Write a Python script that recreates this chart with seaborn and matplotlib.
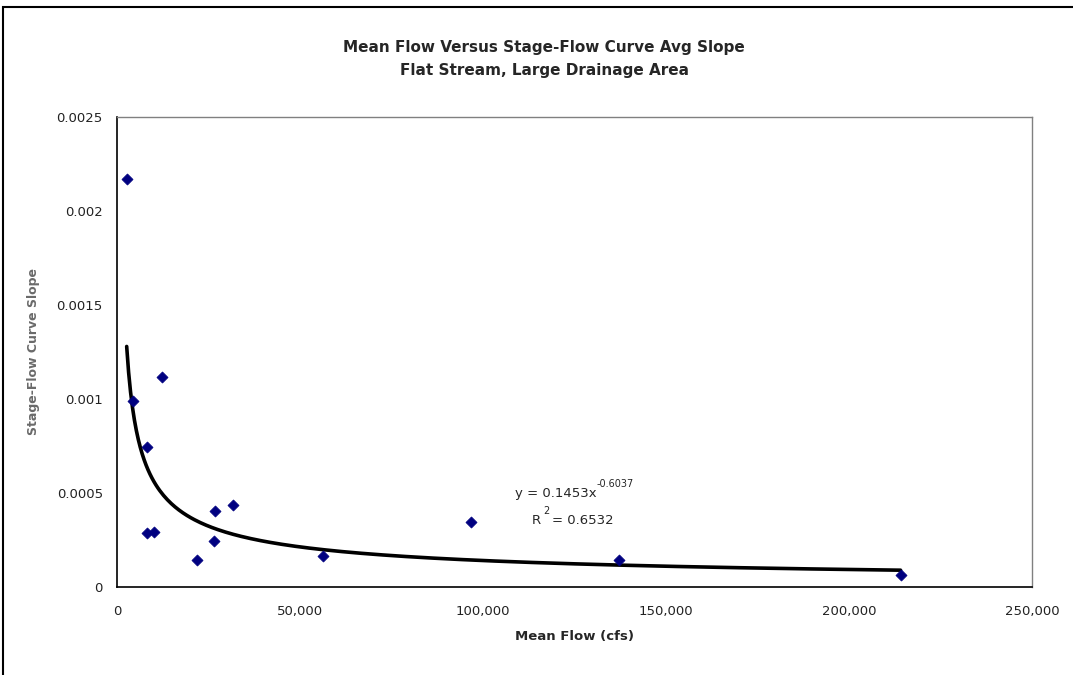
import numpy as np
import pandas as pd
import seaborn as sns
import matplotlib.pyplot as plt
from matplotlib.patches import Rectangle

# data
mean_flow = [2540, 4180, 12110, 8090, 8090, 10085, 21670, 26590, 26400, 31580,
             56270, 96640, 137000, 214070]
curve_slope = [0.002169, 0.000988, 0.001114, 0.000743, 0.000287, 0.000291, 0.000142,
               0.000404, 0.000242, 0.000435, 0.000162, 0.000344, 0.000142, 0.0000622]

# power trendline shown on the chart
coef_a = 0.1453
coef_b = -0.6037

df = pd.DataFrame({"flow": mean_flow, "slope": curve_slope})
trend_x = np.linspace(min(mean_flow), max(mean_flow), 400)
trend = pd.DataFrame({"flow": trend_x, "slope": coef_a * trend_x ** coef_b})

sns.set_style("white")
plt.rcParams['font.family'] = ['DejaVu Sans']

fig = plt.figure(figsize=(10.73, 6.75), dpi=100)
ax = fig.add_axes([0.1094, 0.1308, 0.8524, 0.6959])

sns.lineplot(data=trend, x="flow", y="slope", color="black", linewidth=2.6, ax=ax)
sns.scatterplot(data=df, x="flow", y="slope", marker="D", s=32, color="#000080",
                edgecolor="#000080", linewidth=0.5, ax=ax, zorder=5)

ax.set_xlim(0, 250000)
ax.set_ylim(0, 0.0025)
ax.set_xticks([0, 50000, 100000, 150000, 200000, 250000])
ax.set_xticklabels(["0", "50,000", "100,000", "150,000", "200,000", "250,000"])
ax.set_yticks([0, 0.0005, 0.001, 0.0015, 0.002, 0.0025])
ax.set_yticklabels(["0", "0.0005", "0.001", "0.0015", "0.002", "0.0025"])
ax.tick_params(axis="both", direction="out", length=5, width=1, labelsize=9.5,
               colors="#222222")
ax.tick_params(axis="x", pad=8, color="black")
ax.tick_params(axis="y", color="#808080", pad=5.5)

for side in ["left", "bottom"]:
    ax.spines[side].set_color("black")
    ax.spines[side].set_linewidth(1.2)
for side in ["top", "right"]:
    ax.spines[side].set_visible(True)
    ax.spines[side].set_color("#808080")
    ax.spines[side].set_linewidth(1)

ax.set_xlabel("Mean Flow (cfs)", fontsize=9.5, fontweight="bold", labelpad=9)
ax.set_ylabel("Stage-Flow Curve Slope", fontsize=9, fontweight="bold", color="#6a6a6a")
ax.yaxis.set_label_coords(-0.085, 0.5)

# trendline label
ax.text(108600, 0.000477, "y = 0.1453x", fontsize=9.5, ha="left", va="baseline")
ax.annotate("-0.6037", xy=(108600, 0.000477), xytext=(59, 7), textcoords="offset points",
            fontsize=7, ha="left", va="baseline")
ax.text(113300, 0.000333, "R", fontsize=9.5, ha="left", va="baseline")
ax.annotate("2", xy=(113300, 0.000333), xytext=(8, 7), textcoords="offset points",
            fontsize=7, ha="left", va="baseline")
ax.annotate("= 0.6532", xy=(113300, 0.000333), xytext=(14.5, 0), textcoords="offset points",
            fontsize=9.5, ha="left", va="baseline")

fig.text(0.507, 0.929, "Mean Flow Versus Stage-Flow Curve Avg Slope",
         fontsize=11, fontweight="bold", ha="center", va="center")
fig.text(0.507, 0.896, "Flat Stream, Large Drainage Area",
         fontsize=11, fontweight="bold", ha="center", va="center")

# outer chart border (cropped at right and bottom)
fig.patches.append(Rectangle((3 / 1073, -0.1), 1.2, 1 - 7 / 675 + 0.1,
                             transform=fig.transFigure, fill=False,
                             edgecolor="black", linewidth=1.5))

plt.savefig("out.png", dpi=100)
plt.close()
